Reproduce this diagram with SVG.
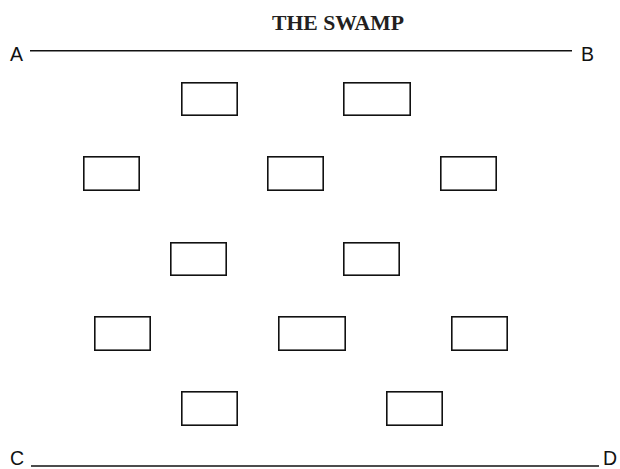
<svg xmlns="http://www.w3.org/2000/svg" width="620" height="469" viewBox="0 0 620 469">
<style>
.box{fill:#fff;stroke:#111;stroke-width:1.6}
.ln{stroke:#111;stroke-width:1.6;fill:none}
.lbl{font-family:"Liberation Sans",Arial,sans-serif;font-size:19.5px;fill:#111}
.title{font-family:"Liberation Serif","Times New Roman",serif;font-weight:bold;font-size:20px;fill:#231f20}
</style>
<rect width="620" height="469" fill="#fff"/>
<text class="title" x="338" y="30" text-anchor="middle" textLength="132" lengthAdjust="spacingAndGlyphs">THE SWAMP</text>
<g id="connectors">
<line class="ln" x1="30" y1="50.7" x2="572" y2="50.7"/>
<line class="ln" x1="31" y1="466" x2="599" y2="466"/>
</g>
<g id="labels">
<text class="lbl" x="10" y="61">A</text>
<text class="lbl" x="581" y="61">B</text>
<text class="lbl" x="10" y="464.5">C</text>
<text class="lbl" x="603" y="464.5">D</text>
</g>
<g id="box1"><rect class="box" x="181.8" y="82.8" width="55.4" height="32.4"/></g>
<g id="box2"><rect class="box" x="343.8" y="82.8" width="66.4" height="32.4"/></g>
<g id="box3"><rect class="box" x="83.8" y="156.8" width="55.4" height="33.4"/></g>
<g id="box4"><rect class="box" x="267.8" y="156.8" width="55.4" height="33.4"/></g>
<g id="box5"><rect class="box" x="440.8" y="156.8" width="55.4" height="33.4"/></g>
<g id="box6"><rect class="box" x="170.8" y="242.8" width="55.4" height="32.4"/></g>
<g id="box7"><rect class="box" x="343.8" y="242.8" width="55.4" height="32.4"/></g>
<g id="box8"><rect class="box" x="94.8" y="316.8" width="55.4" height="33.4"/></g>
<g id="box9"><rect class="box" x="278.8" y="316.8" width="66.4" height="33.4"/></g>
<g id="box10"><rect class="box" x="451.8" y="316.8" width="55.4" height="33.4"/></g>
<g id="box11"><rect class="box" x="181.8" y="391.8" width="55.4" height="33.4"/></g>
<g id="box12"><rect class="box" x="386.8" y="391.8" width="55.4" height="33.4"/></g>
</svg>
